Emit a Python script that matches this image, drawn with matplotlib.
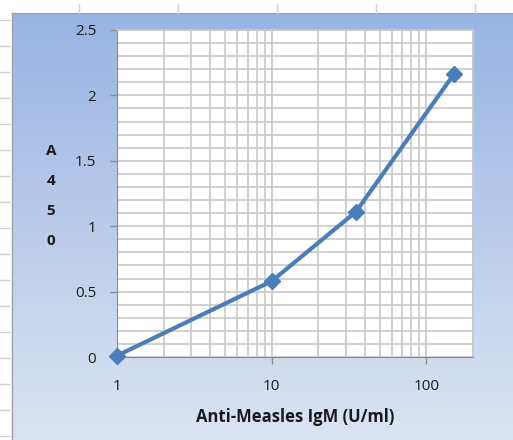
import numpy as np
import matplotlib
matplotlib.use("Agg")
import matplotlib.pyplot as plt
from matplotlib.ticker import FixedLocator, NullFormatter

conc = [1, 10, 35, 150]
a450 = [0.01, 0.58, 1.11, 2.16]
x_ticks = [1, 10, 100]
x_tick_labels = ["1", "10", "100"]
y_ticks = [0, 0.5, 1, 1.5, 2, 2.5]
y_tick_labels = ["0", "0.5", "1", "1.5", "2", "2.5"]

W, H = 513, 440
plt.rcParams["font.family"] = ["Open Sans", "DejaVu Sans"]
fig = plt.figure(figsize=(W / 100, H / 100), dpi=100)

# chart-area gradient behind everything
bg = fig.add_axes([0, 0, 1, 1], zorder=-10)
bg.set_xlim(0, W)
bg.set_ylim(H, 0)
bg.axis("off")
top = np.array([152, 180, 226]) / 255
bottom = np.array([220, 228, 243]) / 255
t = np.linspace(0, 1, 256)[:, None]
grad = (top * (1 - t) + bottom * t)[:, None, :]
bg.imshow(grad, extent=[12, W, H, 13], aspect="auto", interpolation="bilinear")
bg.plot([12, 12], [13, H], color="#a0a0a0", lw=1)
bg.plot([12, W], [13, 13], color="#a0a0a0", lw=0.8)
# spreadsheet grid ticks around the chart
for xv in [79, 178, 277, 376, 475]:
    bg.plot([xv, xv], [4, 13], color="#d0d0d0", lw=1)
for yv in range(20, H, 26):
    bg.plot([0, 9], [yv, yv], color="#d0d0d0", lw=1)

ax = fig.add_axes([117 / W, 1 - 357 / H, (473 - 117) / W, (357 - 30) / H])
ax.set_facecolor("white")
ax.set_xscale("log")
ax.set_xlim(1, 200)
ax.set_ylim(0, 2.5)

ax.xaxis.set_major_locator(FixedLocator(x_ticks))
ax.set_xticklabels(x_tick_labels)
ax.xaxis.set_minor_locator(FixedLocator([m * 10 ** d for d in range(3) for m in range(2, 10)]))
ax.xaxis.set_minor_formatter(NullFormatter())
ax.set_yticks(y_ticks)
ax.set_yticklabels(y_tick_labels)
ax.yaxis.set_minor_locator(FixedLocator(np.arange(0, 2.51, 0.1)))

ax.grid(True, which="both", color="#c8c8c8", lw=1.2)
ax.set_axisbelow(True)
ax.tick_params(which="major", direction="out", length=5, width=1, color="#8c8c8c",
               labelsize=11, labelcolor="#1a1a1a", pad=10)
ax.tick_params(axis="x", which="minor", length=0)
ax.tick_params(axis="y", which="minor", length=0)
ax.tick_params(axis="x", which="major", length=5, pad=11)

for side in ["top", "right"]:
    ax.spines[side].set_color("#c8c8c8")
    ax.spines[side].set_linewidth(1.2)
ax.spines["left"].set_color("#8c8c8c")
ax.spines["bottom"].set_color("#8c8c8c")

ax.plot(conc, a450, color="#4a7ebb", lw=3, marker="D", ms=8, clip_on=False, zorder=5)

ax.set_xlabel("Anti-Measles IgM (U/ml)", fontsize=12, fontweight="bold",
              color="#1a1a1a", labelpad=10)
fig.text(51 / W, 1 - 196 / H, "A\n4\n5\n0", fontsize=11, fontweight="bold",
         ha="center", va="center", linespacing=2.45, color="#1a1a1a")

fig.savefig("out.png", dpi=100)
